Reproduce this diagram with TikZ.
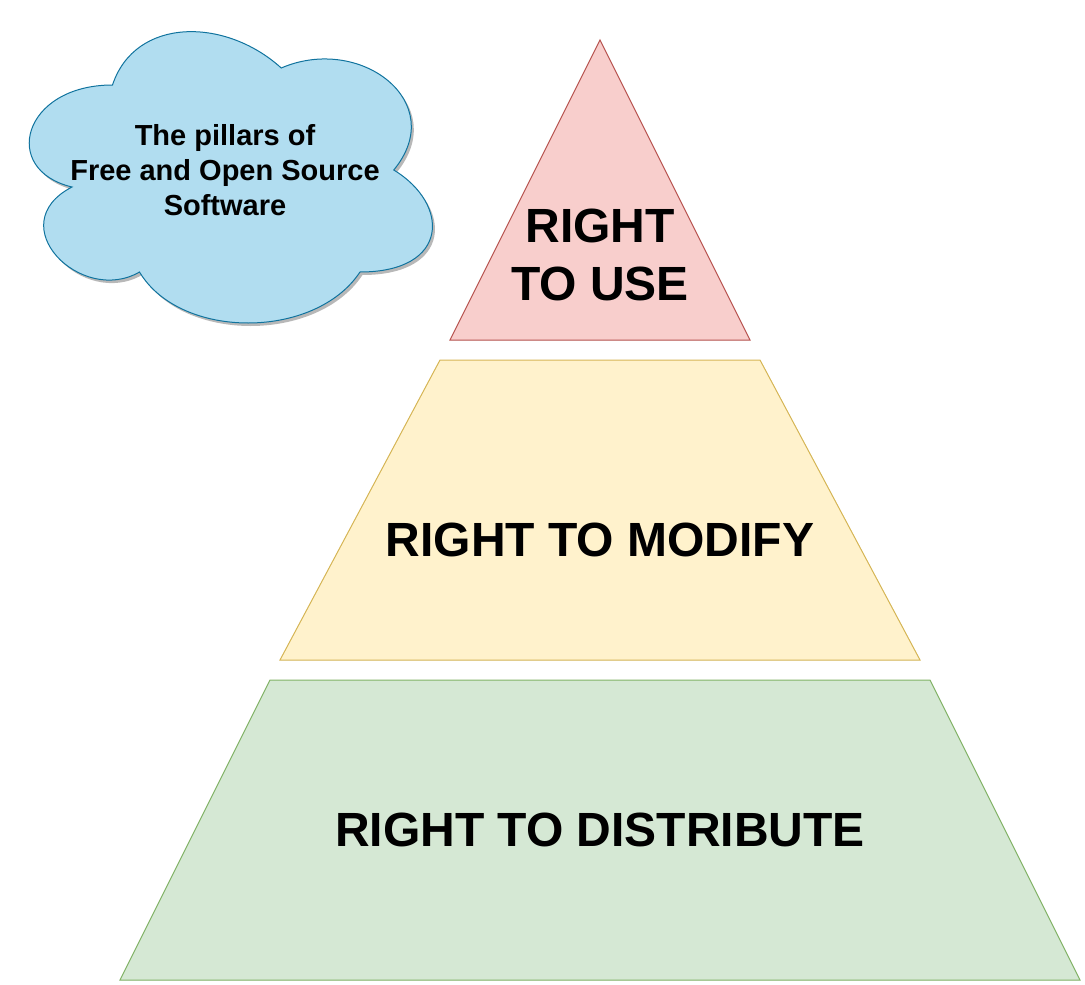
\documentclass[tikz,border=0pt]{standalone}
\usepackage{fontspec}
\setmainfont{Liberation Sans}
\definecolor{redfill}{HTML}{F8CECC}
\definecolor{redline}{HTML}{B85450}
\definecolor{yelfill}{HTML}{FFF2CC}
\definecolor{yelline}{HTML}{D6B656}
\definecolor{grnfill}{HTML}{D5E8D4}
\definecolor{grnline}{HTML}{82B366}
\definecolor{blufill}{HTML}{B1DDF0}
\definecolor{bluline}{HTML}{10739E}
\tikzset{
  shadowshape/.style={fill=black!28, draw=none, xshift=2.5pt, yshift=-3pt},
  bigtext/.style={font=\fontsize{48}{58}\selectfont\bfseries, align=center, inner sep=0pt},
  cloudtext/.style={font=\fontsize{29}{34.8}\selectfont\bfseries, align=center, inner sep=0pt},
}
\newcommand{\mycloud}{(112.5,85) .. controls (22.5,85) and (0,170) .. (72,187)
  .. controls (0,224.4) and (81,306) .. (139.5,272)
  .. controls (180,340) and (315,340) .. (360,272)
  .. controls (450,272) and (450,204) .. (393.75,170)
  .. controls (450,102) and (360,34) .. (281.25,68)
  .. controls (225,17) and (135,17) .. (112.5,85) -- cycle}
\begin{document}
\begin{tikzpicture}[x=1pt,y=-1pt,line width=1pt]
\useasboundingbox (0,0) rectangle (1085,985);
% cloud
\fill[shadowshape] \mycloud;
\filldraw[fill=blufill, draw=bluline] \mycloud;
\node[cloudtext] (cloudlabel) at (225,170) {The pillars of\\Free and Open Source\\Software};
% top triangle
\coordinate (tA) at (600,40);
\coordinate (tL) at (450,340);
\coordinate (tR) at (750,340);
\fill[shadowshape] (tA) -- (tL) -- (tR) -- cycle;
\filldraw[fill=redfill, draw=redline] (tA) -- (tL) -- (tR) -- cycle;
\node[bigtext] (uselabel) at (600,255) {RIGHT\\TO USE};
% middle trapezoid
\coordinate (mTL) at (440,360);
\coordinate (mTR) at (760,360);
\coordinate (mBR) at (920,660);
\coordinate (mBL) at (280,660);
\fill[shadowshape] (mTL) -- (mTR) -- (mBR) -- (mBL) -- cycle;
\filldraw[fill=yelfill, draw=yelline] (mTL) -- (mTR) -- (mBR) -- (mBL) -- cycle;
\node[bigtext] (modlabel) at (600,540) {RIGHT TO MODIFY};
% bottom trapezoid
\coordinate (bTL) at (270,680);
\coordinate (bTR) at (930,680);
\coordinate (bBR) at (1080,980);
\coordinate (bBL) at (120,980);
\fill[shadowshape] (bTL) -- (bTR) -- (bBR) -- (bBL) -- cycle;
\filldraw[fill=grnfill, draw=grnline] (bTL) -- (bTR) -- (bBR) -- (bBL) -- cycle;
\node[bigtext] (distlabel) at (600,830) {RIGHT TO DISTRIBUTE};
\end{tikzpicture}
\end{document}
